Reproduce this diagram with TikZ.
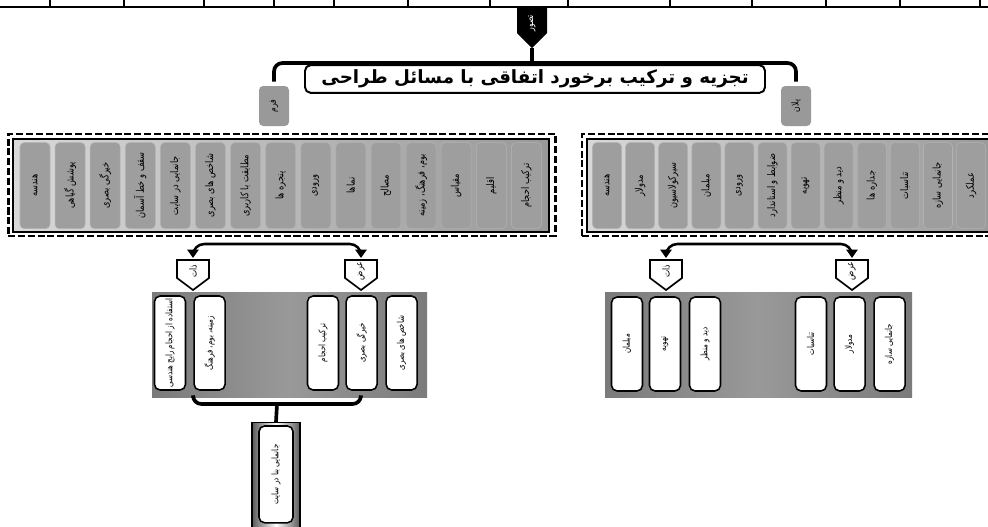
\documentclass[tikz,border=0pt]{standalone}
\usepackage{fontspec}
\usepackage{graphicx}
\usetikzlibrary{arrows.meta}
\newfontfamily\fafont[Script=Arabic,FakeStretch=0.78]{DejaVu Sans}
\newfontfamily\fatitle[Script=Arabic]{DejaVu Sans}
\TeXXeTstate=1
\newcommand{\vfa}[1]{\rotatebox{90}{\fafont\beginR #1\endR}}

\begin{document}
\begin{tikzpicture}[
    headsign/.style={minimum width=0.75cm,minimum height=0.625cm,inner sep=0pt,
        text=white,font=\scriptsize},
    kindsign/.style={minimum width=0.8cm,minimum height=0.45cm,inner sep=0pt,font=\scriptsize},
    kindline/.style={draw=black,fill=white,line width=1.2pt,line join=miter},
    tag/.style={rounded corners=3pt,fill=black!40,minimum width=0.75cm,minimum height=1.0cm,
        inner sep=0pt,font=\scriptsize},
    titlebox/.style={draw,line width=1.4pt,rounded corners=4pt,fill=white,
        minimum width=11.5cm,minimum height=0.65cm,font=\bfseries\fontsize{13}{15}\selectfont},
    frame/.style={draw,line width=2pt,dash pattern=on 5pt off 2pt},
    bed/.style={draw,line width=1.6pt,left color=black!15,right color=black!40},
    item/.style={draw=black!30,rounded corners=3pt,fill=black!38,minimum width=0.75cm,
        minimum height=2.15cm,inner sep=0pt,font=\fontsize{7.5}{8}\selectfont},
    tray/.style={left color=black!52,right color=black!52,middle color=black!40},
    pick/.style={draw,line width=1.1pt,rounded corners=4pt,fill=white,minimum width=0.775cm,
        minimum height=2.35cm,inner sep=0pt,font=\fontsize{6.5}{7}\selectfont},
    brace/.style={draw,line width=2.6pt,rounded corners=6pt},
    swap/.style={draw,line width=1.8pt,rounded corners=8pt,
        {Triangle[width=8pt,length=6pt]}-{Triangle[width=8pt,length=6pt]}}
]
    \clip (0,0) rectangle (24.7,-13.15);
    \fill[white] (0,0) rectangle (24.7,-13.15);

    % cut table row at the top
    \draw[line width=1.2pt] (0,-0.175) -- (24.7,-0.175);
    \foreach \x in {1.25,3.1,5.1,6.85,8.35,10.2,12.25,14.2,16.75,18.8,20.65,22.5,24.5}
        \draw[line width=1pt] (\x,0) -- (\x,-0.175);

    % head
    \fill (12.925,-0.2) -- ++(0.75,0) -- ++(0,-0.625) -- ++(-0.375,-0.375)
        -- ++(-0.375,0.375) -- cycle;
    \node[headsign] (tasavor) at (13.3,-0.58) {\vfa{تصور}};
    \coordinate (tasavor-tip) at (13.3,-1.2);
    \coordinate (tasavor-join) at (13.3,-1.575);
    \node[tag] (form) at (6.85,-2.65) {\vfa{فرم}};
    \node[tag] (plan) at (19.9,-2.65) {\vfa{پلان}};
    \draw[brace] ([yshift=0.1cm]form.north) |- (tasavor-join) -| ([yshift=0.1cm]plan.north);
    \draw[brace] (tasavor-tip) -- (tasavor-join);
    \node[titlebox] (title) at (13.375,-1.975)
        {\fatitle\beginR تجزیه و ترکیب برخورد اتفاقی با مسائل طراحی\endR};

    % form items
    \node[frame,minimum width=13.675cm,minimum height=2.55cm] (form-frame) at (7.04,-4.625) {};
    \node[bed,minimum width=13.4cm,minimum height=2.325cm] (form-bed) at (7.025,-4.6375) {};
    \foreach \name [count=\i from 0] in {هندسه,پوشش گیاهی,خیرگی بصری,سقف و خط آسمان,
        جانمایی در سایت,شاخص های بصری,مطابقت با کاربری,پنجره ها,ورودی,نماها,مصالح,
        بوم، فرهنگ، زمینه,مقیاس,اقلیم,ترکیب احجام}
        \node[item] (form-\i) at ({0.875+0.8775*\i},-4.64) {\vfa{\name}};

    % plan items
    \node[frame,minimum width=10.45cm,minimum height=2.55cm] (plan-frame) at (19.775,-4.625) {};
    \node[bed,minimum width=10.325cm,minimum height=2.325cm] (plan-bed) at (19.8375,-4.6375) {};
    \foreach \name [count=\i from 0] in {هندسه,مدولار,سیرکولاسیون,مبلمان,ورودی,
        ضوابط و استاندارد,تهویه,دید و منظر,جداره ها,تناسبات,جانمایی سازه,عملکرد}
        \node[item,minimum width=0.725cm] (plan-\i) at ({15.175+0.8275*\i},-4.64) {\vfa{\name}};

    % essence and accident signs
    \foreach \x in {4.825,9.025,16.65,21.3}
        \draw[kindline] (\x-0.4,-6.5) -- ++(0.8,0) -- ++(0,-0.45) -- ++(-0.4,-0.3)
            -- ++(-0.4,0.3) -- cycle;

    % form: essence and accident
    \node[kindsign] (form-zat) at (4.825,-6.78) {\vfa{ذات}};
    \node[kindsign] (form-arz) at (9.025,-6.78) {\vfa{عرض}};
    \coordinate (form-swap) at (6.925,-6.1);
    \draw[swap] ([yshift=0.33cm]form-zat.center) |- (form-swap) -| ([yshift=0.33cm]form-arz.center);
    \node[tray,minimum width=6.875cm,minimum height=2.625cm] (form-tray) at (7.2375,-8.6125) {};
    \foreach \x/\name [count=\i] in {4.25/استفاده از احجام رایج هندسی,5.24/زمینه، بوم، فرهنگ,
        8.075/ترکیب احجام,9.04/خیرگی بصری,10.04/شاخص های بصری}
        \node[pick] (form-pick-\i) at (\x,-8.575) {\vfa{\name}};
    \coordinate (form-merge) at (6.925,-10.1);
    \draw[brace] (form-tray.south -| form-zat) |- (form-merge) -| (form-tray.south -| form-arz);
    \node[draw,line width=1pt,left color=black!65,right color=black!65,middle color=white,
        minimum width=1.2cm,minimum height=2.8cm,anchor=north] (site-frame) at (6.9,-10.55) {};
    \node[pick,minimum width=0.85cm,minimum height=2.42cm,anchor=north] (site) at (6.9,-10.63)
        {\vfa{جانمایی بنا در سایت}};
    \draw[brace] (form-merge) -- (site-frame.north);

    % plan: essence and accident
    \node[kindsign] (plan-zat) at (16.65,-6.78) {\vfa{ذات}};
    \node[kindsign] (plan-arz) at (21.3,-6.78) {\vfa{عرض}};
    \coordinate (plan-swap) at (18.975,-6.1);
    \draw[swap] ([yshift=0.33cm]plan-zat.center) |- (plan-swap) -| ([yshift=0.33cm]plan-arz.center);
    \node[tray,minimum width=7.675cm,minimum height=2.625cm] (plan-tray) at (18.9625,-8.6125) {};
    \foreach \x/\name [count=\i] in {15.675/مبلمان,16.625/تهویه,17.625/دید و منظر,
        20.275/تناسبات,21.24/مدولار,22.24/جانمایی سازه}
        \node[pick] (plan-pick-\i) at (\x,-8.6) {\vfa{\name}};
\end{tikzpicture}
\end{document}
